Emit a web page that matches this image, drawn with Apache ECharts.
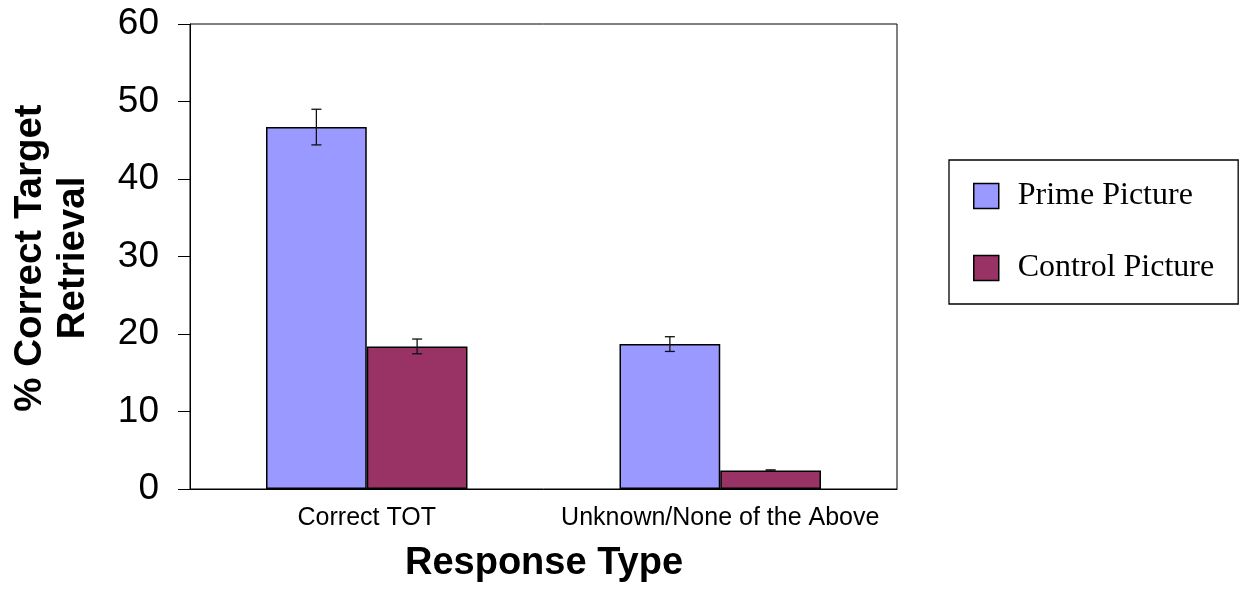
<!DOCTYPE html>
<html>
<head>
<meta charset="utf-8">
<script src="https://cdn.jsdelivr.net/npm/echarts@6/dist/echarts.min.js"></script>
<style>
html,body{margin:0;padding:0;background:#fff;}
#chart{width:1240px;height:589px;}
</style>
</head>
<body>
<div id="chart"></div>
<script>
var categories = ['Correct TOT', 'Unknown/None of the Above'];
var primeValues = [46.7, 18.7];
var primeErrors = [2.3, 0.95];
var controlValues = [18.4, 2.4];
var controlErrors = [0.95, 0.07];
var yTicks = [0, 10, 20, 30, 40, 50, 60];

var seriesNames = ['Prime Picture', 'Control Picture'];
var colors = ['#9999FF', '#993366'];
var CAT_GAP = 0.43;

function errorSeries(values, errors, seriesIdx) {
  var data = values.map(function (v, i) { return [i, v, errors[i]]; });
  return {
    type: 'custom',
    name: seriesNames[seriesIdx] + ' error',
    silent: true,
    z: 10,
    data: data,
    renderItem: function (params, api) {
      var ci = api.value(0);
      var v = api.value(1);
      var e = api.value(2);
      var catW = api.size([1, 0])[0];
      var barW = catW * (1 - CAT_GAP) / 2;
      var center = api.coord([ci, v]);
      var x = center[0] + (seriesIdx === 0 ? -barW / 2 : barW / 2);
      var hi = api.coord([ci, v + e])[1];
      var lo = api.coord([ci, v - e])[1];
      var cap = 5;
      var style = { stroke: '#111', lineWidth: 1.3 };
      return {
        type: 'group',
        children: [
          { type: 'line', shape: { x1: x, y1: hi, x2: x, y2: lo }, style: style },
          { type: 'line', shape: { x1: x - cap, y1: hi, x2: x + cap, y2: hi }, style: style },
          { type: 'line', shape: { x1: x - cap, y1: lo, x2: x + cap, y2: lo }, style: style }
        ]
      };
    }
  };
}

var chart = echarts.init(document.getElementById('chart'), null, { renderer: 'canvas' });
chart.setOption({
  animation: false,
  backgroundColor: '#fff',
  textStyle: { fontFamily: 'Liberation Sans, Arial, sans-serif' },
  grid: {
    left: 190, right: 343, top: 24, bottom: 100,
    show: true, borderColor: '#000', borderWidth: 1, backgroundColor: 'transparent'
  },
  legend: {
    orient: 'vertical',
    left: 949, top: 160,
    data: seriesNames,
    itemWidth: 25, itemHeight: 25,
    itemGap: 40,
    padding: [20, 24, 20, 24],
    borderColor: '#000', borderWidth: 1.3,
    icon: 'rect',
    itemStyle: { borderColor: '#000', borderWidth: 1.5 },
    textStyle: { fontFamily: 'Liberation Serif, Times New Roman, serif', fontSize: 32, color: '#000', padding: [0, 0, 0, 14] }
  },
  xAxis: {
    type: 'category',
    data: categories,
    axisLine: { lineStyle: { color: '#000', width: 1 } },
    axisTick: { show: false },
    axisLabel: { color: '#000', fontSize: 25, margin: 17, interval: 0 }
  },
  yAxis: {
    type: 'value',
    min: yTicks[0], max: yTicks[yTicks.length - 1], interval: 10,
    axisLine: { show: true, lineStyle: { color: '#000', width: 1 } },
    axisTick: { show: true, length: 12, lineStyle: { color: '#000' } },
    axisLabel: { color: '#000', fontSize: 37, margin: 31 },
    splitLine: { show: false }
  },
  graphic: [
    {
      type: 'text', x: 52, y: 258, rotation: Math.PI / 2,
      style: {
        text: '% Correct Target\nRetrieval',
        font: 'bold 38.5px "Liberation Sans", Arial, sans-serif',
        fill: '#000', align: 'center', verticalAlign: 'middle', lineHeight: 43
      }
    },
    {
      type: 'text', x: 544, y: 564,
      style: {
        text: 'Response Type',
        font: 'bold 38px "Liberation Sans", Arial, sans-serif',
        fill: '#000', align: 'center', verticalAlign: 'middle'
      }
    }
  ],
  series: [
    {
      type: 'bar', name: seriesNames[0], data: primeValues,
      barGap: '0%', barCategoryGap: (CAT_GAP * 100) + '%',
      itemStyle: { color: colors[0], borderColor: '#000', borderWidth: 1.5 }
    },
    {
      type: 'bar', name: seriesNames[1], data: controlValues,
      barGap: '0%', barCategoryGap: (CAT_GAP * 100) + '%',
      itemStyle: { color: colors[1], borderColor: '#000', borderWidth: 1.5 }
    },
    errorSeries(primeValues, primeErrors, 0),
    errorSeries(controlValues, controlErrors, 1)
  ]
});
</script>
</body>
</html>
